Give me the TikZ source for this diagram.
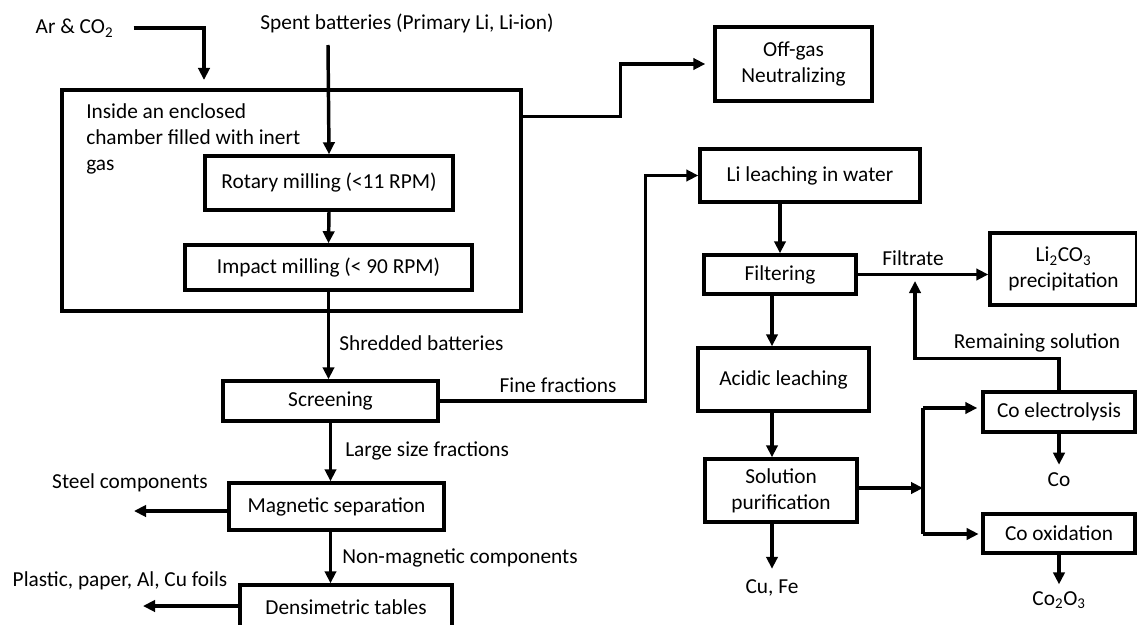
\documentclass[tikz,border=0pt]{standalone}
\usepackage{fontspec}
\setmainfont{Carlito}
\usetikzlibrary{arrows.meta,calc}
\begin{document}
\begin{tikzpicture}[x=0.75pt,y=-0.75pt,
  font=\fontsize{16}{19.5}\selectfont,
  box/.style={draw,line width=2.6pt,inner sep=0pt,align=center},
  sz/.style 2 args={minimum width=#1*0.75pt,minimum height=#2*0.75pt},
  arr/.style={line width=2.6pt,-{Triangle[length=9pt,width=8.5pt]}},
  ln/.style={line width=2.6pt},
  lbl/.style={inner sep=0pt,align=center}]
\useasboundingbox (0,0) rectangle (1137,624);

% ---- enclosed milling chamber ----
\node[box,sz={459}{221}] (chamber) at (291.5,200.5) {};
\node[lbl,align=left,anchor=west] (inside) at (86,139)
  {Inside an enclosed\\chamber filled with inert\\gas};
\node[box,sz={248}{54}] (rotary) at (329,183) {Rotary milling (<11 RPM)};
\node[box,sz={287}{45}] (impact) at (328.5,267.5) {Impact milling (< 90 RPM)};

\node[lbl] (ar) at (74.5,28) {Ar \& CO\textsubscript{2}};
\node[lbl] (spent) at (407,23) {Spent batteries (Primary Li, Li-ion)};
\coordinate (arin) at (204,80);
\coordinate (spentfrom) at (328,45);

% ---- off-gas ----
\node[box,sz={157}{74}] (offgas) at (793.5,64) {Off-gas\\Neutralizing};

% ---- mechanical separation line ----
\node[box,sz={215}{40}] (screen) at (330.5,401) {Screening};
\node[box,sz={215}{47}] (magnet) at (336.5,506.5) {Magnetic separation};
\node[box,sz={212}{45}] (dens) at (346,607.5) {Densimetric tables};

\node[lbl,anchor=west] (shred) at (339,343) {Shredded batteries};
\node[lbl] (fine) at (558,385) {Fine fractions};
\node[lbl,anchor=west] (large) at (345,451) {Large size fractions};
\node[lbl] (steel) at (130,483) {Steel components};
\node[lbl,anchor=west] (nonmag) at (342,558) {Non-magnetic components};
\node[lbl] (plastic) at (120,581) {Plastic, paper, Al, Cu foils};
\coordinate (steelend) at (134,511);
\coordinate (plasticend) at (143,606);

% ---- hydrometallurgical line ----
\node[box,sz={220}{53}] (lileach) at (810,175.5) {Li leaching in water};
\node[box,sz={152}{39}] (filter) at (780,274.5) {Filtering};
\node[box,sz={147}{72}] (li2co3) at (1063.5,269) {Li\textsubscript{2}CO\textsubscript{3}\\precipitation};
\node[box,sz={171}{63}] (acidic) at (783.5,379.5) {Acidic leaching};
\node[box,sz={152}{63}] (solution) at (781,490.5) {Solution\\purification};
\node[box,sz={152}{40}] (coel) at (1059,412) {Co electrolysis};
\node[box,sz={152}{39}] (coox) at (1059,533.5) {Co oxidation};

\node[lbl] (filtrate) at (913,258) {Filtrate};
\node[lbl] (remain) at (1037,343) {Remaining solution};
\node[lbl] (cufe) at (772,588) {Cu, Fe};
\node[lbl] (co) at (1059,480) {Co};
\node[lbl] (co2o3) at (1059,600) {Co\textsubscript{2}O\textsubscript{3}};

\coordinate (colx) at (772,0);
\coordinate (split) at (923,488);
\coordinate (sptop) at (923,408);
\coordinate (spbot) at (923,534);
\coordinate (rejoin) at (915,281);

% ---- connectors ----
\draw[arr] ([xshift=15pt]ar.east) -| (arin);
\draw[arr] (spentfrom) -- (rotary.north);
\draw[arr] (rotary.south) -- (impact.north);
\draw[arr] (impact.south) -- (impact.south |- screen.north);
\draw[arr,shorten >=6pt] ($(chamber.north east)+(0,28)$) -- ++(98,0) |- (offgas.west);

\draw[arr] (screen.east) -- ++(206,0) |- (lileach.west);
\draw[arr] (screen.south) -- (screen.south |- magnet.north);
\draw[arr] (magnet.south -| screen.south) -- (screen.south |- dens.north);
\draw[arr] (magnet.west |- steelend) -- (steelend);
\draw[arr] (dens.west |- plasticend) -- (plasticend);

\draw[arr] (lileach.south -| filter.north) -- (filter.north);
\draw[arr] (filter.east) -- (filter.east -| li2co3.west);
\draw[arr] (colx |- filter.south) -- (colx |- acidic.north);
\draw[arr] (colx |- acidic.south) -- (colx |- solution.north);
\draw[arr,shorten >=8pt] (colx |- solution.south) -- (colx |- cufe.north);

\draw[arr] (solution.east |- split) -- (split);
\draw[ln] (sptop) -- (spbot);
\draw[arr,shorten >=3pt] (sptop) -- (sptop -| coel.west);
\draw[arr,shorten >=2pt] (spbot) -- (spbot -| coox.west);
\draw[arr,shorten >=6pt] (coel.south) -- (co.north);
\draw[arr,shorten >=5pt] (coox.south) -- (co2o3.north);
\draw[arr] (coel.north) -- ++(0,-32) -| (rejoin);
\end{tikzpicture}
\end{document}
